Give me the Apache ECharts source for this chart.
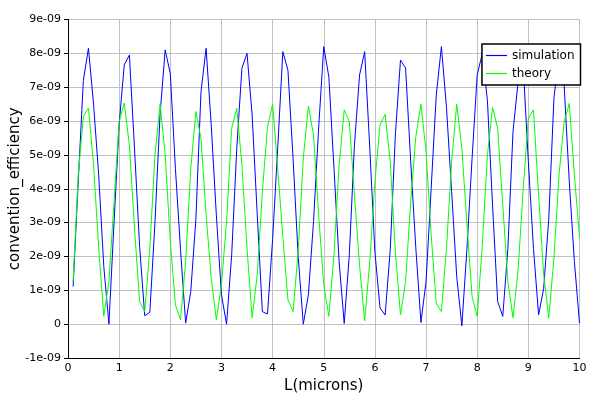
<!DOCTYPE html>
<html>
<head>
<meta charset="utf-8">
<script src="https://cdn.jsdelivr.net/npm/echarts@6/dist/echarts.min.js"></script>
<style>html,body{margin:0;padding:0;background:#fff;}#chart{width:600px;height:400px;}</style>
</head>
<body>
<div id="chart"></div>
<script>
// x positions (microns)
const xValues = [0.1,0.2,0.3,0.4,0.5,0.6,0.7,0.8,0.9,1.0,
  1.1,1.2,1.3,1.4,1.5,1.6,1.7,1.8,1.9,2.0,
  2.1,2.2,2.3,2.4,2.5,2.6,2.7,2.8,2.9,3.0,
  3.1,3.2,3.3,3.4,3.5,3.6,3.7,3.8,3.9,4.0,
  4.1,4.2,4.3,4.4,4.5,4.6,4.7,4.8,4.9,5.0,
  5.1,5.2,5.3,5.4,5.5,5.6,5.7,5.8,5.9,6.0,
  6.1,6.2,6.3,6.4,6.5,6.6,6.7,6.8,6.9,7.0,
  7.1,7.2,7.3,7.4,7.5,7.6,7.7,7.8,7.9,8.0,
  8.1,8.2,8.3,8.4,8.5,8.6,8.7,8.8,8.9,9.0,
  9.1,9.2,9.3,9.4,9.5,9.6,9.7,9.8,9.9,10.0];

// values in units of 1e-09
const simulation = [1.11,4.2,7.2,8.15,6.5,4.4,1.7,0.0,3.0,5.9,
  7.66,7.95,5.2,2.3,0.25,0.35,3.0,6.2,8.1,7.4,
  4.6,2.2,0.03,0.96,3.1,6.87,8.15,5.88,3.23,0.87,
  0.0,2.05,5.2,7.56,8.0,6.18,3.23,0.37,0.30,2.5,
  5.2,8.05,7.5,4.9,2.0,0.0,0.87,3.03,5.79,8.2,
  7.3,4.61,1.85,0.02,2.05,5.29,7.36,8.05,5.2,2.14,
  0.48,0.27,2.2,5.59,7.8,7.57,4.8,2.25,0.05,1.26,
  4.01,6.77,8.2,6.39,3.92,1.4,-0.05,2.24,4.9,7.36,
  8.0,6.6,3.52,0.67,0.23,2.24,5.69,7.16,7.6,4.8,
  2.24,0.27,1.06,3.13,6.67,8.0,7.06,4.21,1.85,0.03];

const theory = [1.26,4.41,6.13,6.38,4.7,2.25,0.23,1.26,3.62,5.98,
  6.53,5.29,2.83,0.67,0.37,2.24,5.0,6.5,5.0,2.44,
  0.57,0.13,1.85,4.6,6.28,5.49,3.23,1.36,0.13,1.16,
  3.03,5.79,6.38,4.7,2.24,0.19,1.46,3.92,5.83,6.5,
  4.6,2.59,0.72,0.37,2.14,4.9,6.44,5.59,3.23,1.16,
  0.23,2.05,4.7,6.33,5.98,3.82,1.75,0.1,1.85,4.21,
  5.88,6.2,4.8,2.14,0.27,1.26,3.62,5.54,6.5,5.1,
  2.64,0.62,0.37,2.24,4.8,6.5,5.2,2.93,0.82,0.23,
  2.34,5.0,6.4,5.79,3.52,1.26,0.19,1.6,4.01,6.08,
  6.33,3.82,1.46,0.19,1.95,4.41,5.98,6.52,4.41,2.55];

const xTickLabels = ['0','1','2','3','4','5','6','7','8','9','10'];
const yTickLabels = ['-1e-09','0','1e-09','2e-09','3e-09','4e-09','5e-09','6e-09','7e-09','8e-09','9e-09'];
const seriesNames = ['simulation','theory'];

const FONT = 'DejaVu Sans';
const chart = echarts.init(document.getElementById('chart'), null, {renderer:'canvas'});

function pairs(ys){ return xValues.map((x,i)=>[x, ys[i]]); }

chart.setOption({
  animation: false,
  backgroundColor: '#ffffff',
  grid: {left: 68, right: 20.5, top: 19.5, bottom: 42, containLabel: false, outerBoundsMode: 'none'},
  xAxis: {
    type: 'value', min: 0, max: 10, interval: 1,
    name: 'L(microns)', nameLocation: 'middle', nameGap: 21, nameMoveOverlap: false,
    nameTextStyle: {fontFamily: FONT, fontSize: 15, color: '#000'},
    axisLine: {show: true, onZero: false, lineStyle: {color: '#000', width: 1}},
    axisTick: {show: false},
    axisLabel: {fontFamily: FONT, fontSize: 11, color: '#000', margin: 5,
      formatter: v => xTickLabels[Math.round(v)]},
    splitLine: {show: true, lineStyle: {color: '#c0c0c0', width: 1}}
  },
  yAxis: {
    type: 'value', min: -1, max: 9, interval: 1,
    name: 'convention_efficiency', nameLocation: 'middle', nameGap: 45, nameMoveOverlap: false,
    nameTextStyle: {fontFamily: FONT, fontSize: 15, color: '#000'},
    axisLine: {show: true, onZero: false, lineStyle: {color: '#000', width: 1}},
    axisTick: {show: true, length: 4, lineStyle: {color: '#000'}},
    axisLabel: {fontFamily: FONT, fontSize: 11, color: '#000', margin: 7,
      formatter: v => yTickLabels[Math.round(v) + 1]},
    splitLine: {show: true, lineStyle: {color: '#c0c0c0', width: 1}}
  },
  legend: {
    orient: 'vertical', right: 19.5, top: 44,
    data: seriesNames,
    icon: 'rect', itemWidth: 21, itemHeight: 1.2, itemGap: 2,
    padding: [3.5, 6, 3.5, 4],
    backgroundColor: '#ffffff', borderColor: '#000', borderWidth: 1.5, borderRadius: 0,
    textStyle: {fontFamily: FONT, fontSize: 12, lineHeight: 16, color: '#000'}
  },
  series: [
    {name: seriesNames[0], type: 'line', data: pairs(simulation), symbol: 'none', showSymbol: false,
     lineStyle: {color: '#0000ff', width: 1}, itemStyle: {color: '#0000ff'}},
    {name: seriesNames[1], type: 'line', data: pairs(theory), symbol: 'none', showSymbol: false,
     lineStyle: {color: '#00ff00', width: 1}, itemStyle: {color: '#00ff00'}}
  ]
});
</script>
</body>
</html>
